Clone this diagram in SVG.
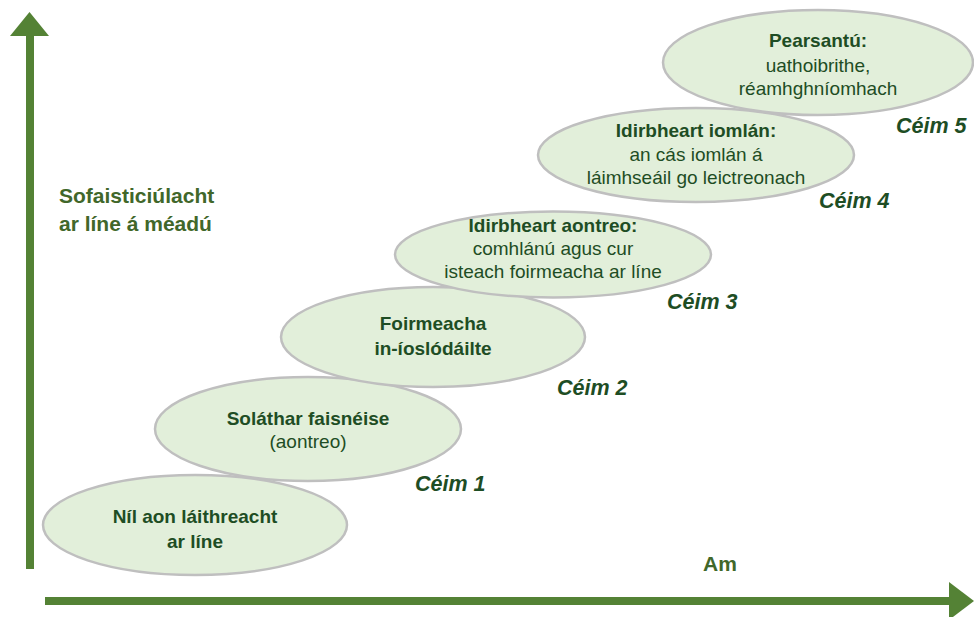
<svg xmlns="http://www.w3.org/2000/svg" width="974" height="617" viewBox="0 0 974 617">
<style>
.el{fill:#e2efda;stroke:#bfbfbf;stroke-width:2.5}
.t{font-family:"Liberation Sans",Arial,sans-serif;font-size:19px;fill:#1e4d24;text-anchor:middle}
.b{font-weight:bold}
.step{font-family:"Liberation Sans",Arial,sans-serif;font-size:21.5px;font-weight:bold;font-style:italic;fill:#1e4d24}
.ax{font-family:"Liberation Sans",Arial,sans-serif;font-size:21px;font-weight:bold;fill:#41672a}
.arw{fill:#548235}
</style>
<rect width="974" height="617" fill="#ffffff"/>
<g id="connectors">
<rect class="arw" x="26" y="34" width="8" height="535"/>
<polygon class="arw" points="10,36 29.5,12 49,36"/>
<rect class="arw" x="45" y="597" width="906" height="8"/>
<polygon class="arw" points="949,582 974,601 949,620"/>
</g>
<g id="axis-y-label">
<text class="ax" x="59" y="203">Sofaisticiúlacht</text>
<text class="ax" x="59" y="231">ar líne á méadú</text>
</g>
<g id="axis-x-label">
<text class="ax" x="703" y="571">Am</text>
</g>
<g id="stage0">
<ellipse class="el" cx="195" cy="525" rx="152" ry="50"/>
<text class="t b" x="195" y="523">Níl aon láithreacht</text>
<text class="t b" x="195" y="548">ar líne</text>
</g>
<g id="stage1">
<ellipse class="el" cx="308" cy="429" rx="153" ry="52"/>
<text class="t b" x="308" y="425">Soláthar faisnéise</text>
<text class="t" x="308" y="448">(aontreo)</text>
<text class="step" x="415" y="491">Céim 1</text>
</g>
<g id="stage2">
<ellipse class="el" cx="433" cy="337" rx="152" ry="50"/>
<text class="t b" x="433" y="330">Foirmeacha</text>
<text class="t b" x="433" y="355">in-íoslódáilte</text>
<text class="step" x="557" y="395">Céim 2</text>
</g>
<g id="stage3">
<ellipse class="el" cx="553" cy="254.5" rx="158" ry="43"/>
<text class="t b" x="553" y="232">Idirbheart aontreo:</text>
<text class="t" x="553" y="255">comhlánú agus cur</text>
<text class="t" x="553" y="278">isteach foirmeacha ar líne</text>
<text class="step" x="667" y="309">Céim 3</text>
</g>
<g id="stage4">
<ellipse class="el" cx="696" cy="155" rx="158" ry="47"/>
<text class="t b" x="696" y="137">Idirbheart iomlán:</text>
<text class="t" x="696" y="161">an cás iomlán á</text>
<text class="t" x="696" y="184">láimhseáil go leictreonach</text>
<text class="step" x="819" y="208">Céim 4</text>
</g>
<g id="stage5">
<ellipse class="el" cx="818" cy="62.5" rx="155" ry="52.5"/>
<text class="t b" x="818" y="47">Pearsantú:</text>
<text class="t" x="818" y="72">uathoibrithe,</text>
<text class="t" x="818" y="95">réamhghníomhach</text>
<text class="step" x="896" y="133">Céim 5</text>
</g>
</svg>
